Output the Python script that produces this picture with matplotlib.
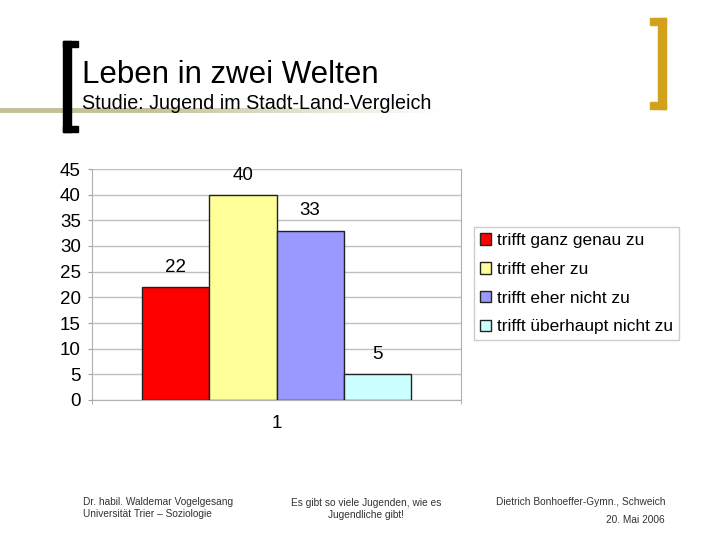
import numpy as np
import matplotlib.pyplot as plt
from matplotlib.patches import Rectangle

plt.rcParams['font.family'] = ['Liberation Sans', 'DejaVu Sans']

# data
categories = ['trifft ganz genau zu', 'trifft eher zu', 'trifft eher nicht zu', 'trifft überhaupt nicht zu']
values = [22, 40, 33, 5]
colors = ['#FF0000', '#FFFF99', '#9999FF', '#CCFFFF']
group_label = '1'
yticks = list(range(0, 50, 5))

W, H = 720, 540
fig = plt.figure(figsize=(7.2, 5.4), dpi=100)

# slide decoration (pixel coords)
bg = fig.add_axes([0, 0, 1, 1])
bg.set_xlim(0, W)
bg.set_ylim(H, 0)
bg.axis('off')

# khaki band fading to the right
xs = np.arange(W)
alpha = np.clip((440 - xs) / (440 - 150), 0, 1)
band = np.zeros((1, W, 4))
band[..., 0] = 196 / 255
band[..., 1] = 194 / 255
band[..., 2] = 154 / 255
band[..., 3] = alpha
bg.imshow(band, extent=(0, W, 113, 108), aspect='auto', interpolation='bilinear')

# black left bracket
for x, y, w, h in [(63, 41, 8, 91), (63, 41, 15, 6), (63, 126, 15, 6)]:
    bg.add_patch(Rectangle((x, y), w, h, color='black'))
# gold right bracket
gold = '#D2A21C'
for x, y, w, h in [(658, 18, 8, 91), (650, 18, 16, 7), (650, 102, 16, 7)]:
    bg.add_patch(Rectangle((x, y), w, h, color=gold))

fig.text(82 / W, 1 - 83 / H, 'Leben in zwei Welten', fontsize=22.5, va='baseline')
fig.text(82 / W, 1 - 109 / H, 'Studie: Jugend im Stadt-Land-Vergleich', fontsize=14.2, va='baseline')

# footer
fc = '#333333'
fig.text(83 / W, 1 - 508 / H, 'Dr. habil. Waldemar Vogelgesang\nUniversität Trier – Soziologie',
         fontsize=7.3, color=fc, va='center', ha='left', linespacing=1.3)
fig.text(366 / W, 1 - 509 / H, 'Es gibt so viele Jugenden, wie es\nJugendliche gibt!',
         fontsize=7.3, color=fc, va='center', ha='center', linespacing=1.3)
fig.text(665 / W, 1 - 502 / H, 'Dietrich Bonhoeffer-Gymn., Schweich',
         fontsize=7.3, color=fc, va='center', ha='right')
fig.text(665 / W, 1 - 520 / H, '20. Mai 2006',
         fontsize=7.3, color=fc, va='center', ha='right')

# chart
ax = fig.add_axes([92 / W, (H - 400) / H, (461 - 92) / W, (400 - 169) / H])
n = len(values)
bw = 0.727 / n
xpos = (np.arange(n) - (n - 1) / 2) * bw
bars = ax.bar(xpos, values, width=bw, color=colors, edgecolor='#222222', linewidth=1,
              label=categories, zorder=3)
for x, v in zip(xpos, values):
    ax.annotate(str(v), (x, v), xytext=(0, 8), textcoords='offset points',
                ha='center', va='bottom', fontsize=13.5)

ax.set_xlim(-0.5, 0.5)
ax.set_ylim(0, 45)
ax.set_yticks(yticks)
ax.set_xticks([0])
ax.set_xticklabels([group_label])
ax.set_xticks([-0.5, 0.5], minor=True)
ax.tick_params(axis='x', which='major', length=0, pad=11, labelsize=13.5)
ax.tick_params(axis='x', which='minor', length=3, color='#A0A0A0', direction='out')
ax.tick_params(axis='y', length=3, color='#A0A0A0', pad=5, labelsize=13.5)
ax.grid(axis='y', color='#C0C0C0', linewidth=1, zorder=0)
for s in ['top']:
    ax.spines[s].set_visible(False)
for s in ['left', 'right', 'bottom']:
    ax.spines[s].set_color('#B0B0B0')

handles = [bars[i] for i in range(n)]
leg = fig.legend(handles, categories, loc='upper left', bbox_to_anchor=(474 / W, 1 - 227 / H),
                 frameon=True, fancybox=False, fontsize=12.4, handlelength=0.65, handleheight=0.65,
                 handletextpad=0.35, labelspacing=0.8, borderpad=0.35, borderaxespad=0)
leg.get_frame().set_edgecolor('#C0C0C0')
leg.get_frame().set_linewidth(1)

fig.savefig('out.png', dpi=100)
